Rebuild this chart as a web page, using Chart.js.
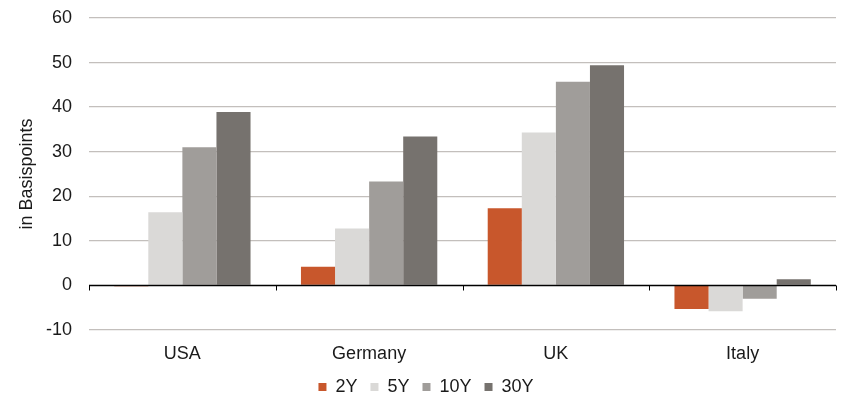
<!DOCTYPE html>
<html>
<head>
<meta charset="utf-8">
<script src="https://cdn.jsdelivr.net/npm/chart.js@4/dist/chart.umd.min.js"></script>
<style>
  html, body { margin: 0; padding: 0; background: #fff; }
  #wrap { width: 841px; height: 400px; position: relative; }
</style>
</head>
<body>
<div id="wrap"><canvas id="chart"></canvas></div>
<script>
// Countries on the category axis
const countries = ['USA', 'Germany', 'UK', 'Italy'];

// Change per maturity, in basis points
const tenor2Y  = [-0.2, 4.2, 17.3, -5.3];
const tenor5Y  = [16.4, 12.8, 34.3, -5.8];
const tenor10Y = [31.0, 23.3, 45.7, -3.0];
const tenor30Y = [38.9, 33.4, 49.4, 1.4];

const seriesNames = ['2Y', '5Y', '10Y', '30Y'];
const seriesColors = ['#C8572C', '#DAD9D7', '#A09D9A', '#76726E'];

const FONT = "'Liberation Sans', Arial, sans-serif";
Chart.defaults.font.family = FONT;
Chart.defaults.font.size = 18;
Chart.defaults.color = '#1a1a1a';

// Black zero line with small category ticks, drawn over the bars
const zeroAxis = {
  id: 'zeroAxis',
  afterDatasetsDraw(chart) {
    const { ctx, chartArea, scales } = chart;
    const y0 = Math.round(scales.y.getPixelForValue(0)) + 0.5;
    ctx.save();
    ctx.strokeStyle = '#000';
    ctx.lineWidth = 1.5;
    ctx.beginPath();
    ctx.moveTo(chartArea.left, y0);
    ctx.lineTo(chartArea.right, y0);
    ctx.stroke();
    ctx.lineWidth = 1;
    for (let i = 0; i <= countries.length; i++) {
      const x = Math.round(scales.x.getPixelForValue(i - 0.5)) + 0.5;
      ctx.beginPath();
      ctx.moveTo(x, y0);
      ctx.lineTo(x, y0 + 5);
      ctx.stroke();
    }
    ctx.restore();
  }
};

const values = [tenor2Y, tenor5Y, tenor10Y, tenor30Y];

new Chart(document.getElementById('chart'), {
  type: 'bar',
  data: {
    labels: countries,
    datasets: seriesNames.map((name, i) => ({
      label: name,
      data: values[i],
      backgroundColor: seriesColors[i],
      borderWidth: 0,
      categoryPercentage: 0.73,
      barPercentage: 1.0
    }))
  },
  options: {
    responsive: true,
    maintainAspectRatio: false,
    animation: false,
    layout: { padding: { left: 16, right: 5, top: 18, bottom: 0 } },
    plugins: {
      tooltip: { enabled: false },
      legend: {
        position: 'bottom',
        maxHeight: 35,
        labels: {
          boxWidth: 8,
          boxHeight: 8,
          padding: 13,
          font: { size: 18 },
          color: '#1a1a1a'
        }
      }
    },
    scales: {
      x: {
        grid: { display: false, drawTicks: false },
        border: { display: false },
        ticks: { padding: 13, color: '#1a1a1a' },
        afterFit(scale) {
          scale.height = 35;
          scale.paddingTop = 0;
          scale.paddingBottom = 0;
        }
      },
      y: {
        min: -10,
        max: 60,
        ticks: { stepSize: 10, padding: 17, color: '#1a1a1a' },
        grid: {
          drawTicks: false,
          color: ctx => ctx.tick && ctx.tick.value === 0 ? 'rgba(0,0,0,0)' : '#C3BFBC',
          lineWidth: 1.3
        },
        border: { display: false },
        title: {
          display: true,
          text: 'in Basispoints',
          color: '#1a1a1a',
          font: { size: 18 },
          padding: { top: 0, bottom: 0 }
        },
        afterFit(scale) {
          scale.width = 73;
          scale.paddingTop = 0;
          scale.paddingBottom = 0;
        }
      }
    }
  },
  plugins: [zeroAxis]
});
</script>
</body>
</html>
